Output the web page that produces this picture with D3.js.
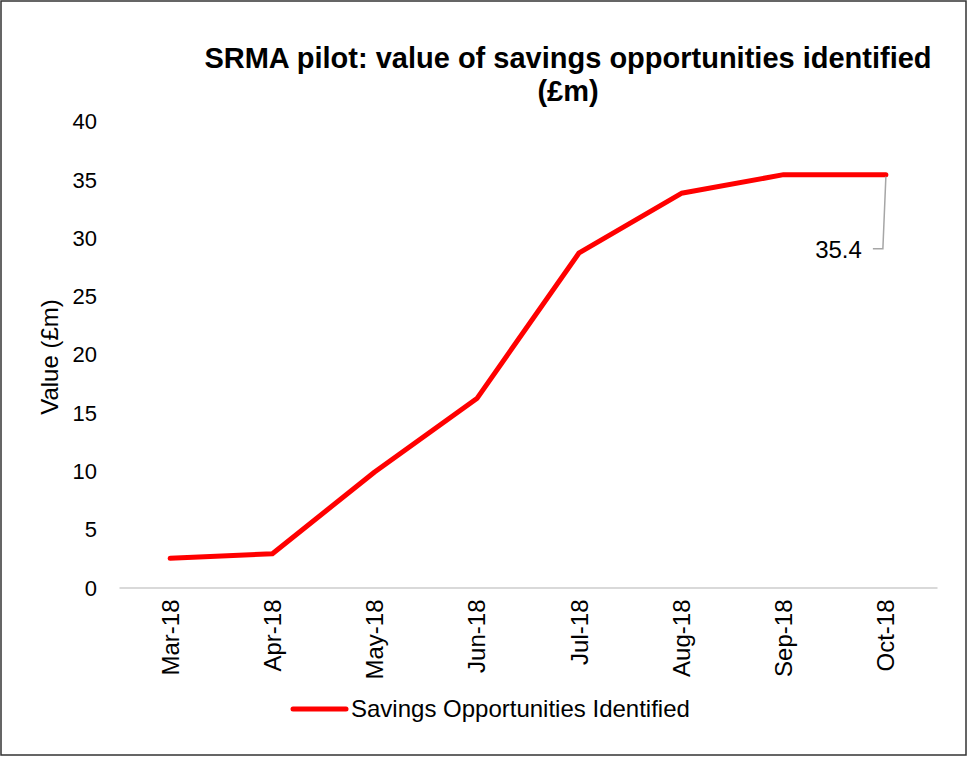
<!DOCTYPE html>
<html><head><meta charset="utf-8">
<script src="https://cdn.jsdelivr.net/npm/d3@7/dist/d3.min.js"></script>
<style>body{margin:0;background:#fff}svg{display:block;font-family:"Liberation Sans",Arial,sans-serif}</style>
</head><body><svg id="c" width="968" height="757"></svg>
<script>
const categories = ["Mar-18","Apr-18","May-18","Jun-18","Jul-18","Aug-18","Sep-18","Oct-18"];
const values = [2.5, 2.9, 9.9, 16.2, 28.7, 33.8, 35.4, 35.4];
const yTicks = [0,5,10,15,20,25,30,35,40];
const seriesName = "Savings Opportunities Identified";
const titleLines = ["SRMA pilot: value of savings opportunities identified","(£m)"];

const svg = d3.select("#c");
svg.append("rect").attr("x",1).attr("y",1).attr("width",965).attr("height",754)
  .attr("fill","#fff").attr("stroke","#333").attr("stroke-width",1.5);

const x = d3.scaleBand().domain(categories).range([119,937]);
const y = d3.scaleLinear().domain([0,40]).range([587.5,121]);

// title
svg.append("text").attr("x",568).attr("y",68).attr("text-anchor","middle")
  .attr("font-size",29).attr("font-weight","bold").text(titleLines[0]);
svg.append("text").attr("x",568).attr("y",101).attr("text-anchor","middle")
  .attr("font-size",29).attr("font-weight","bold").text(titleLines[1]);

// y axis
const ya = svg.append("g").attr("transform","translate(97,0)")
  .call(d3.axisLeft(y).tickValues(yTicks).tickSize(0).tickPadding(0));
ya.select(".domain").remove();
ya.selectAll("text").attr("font-size",22).attr("font-family","Liberation Sans, Arial, sans-serif").attr("fill","#000").attr("dy","0.35em");

// x axis
const xa = svg.append("g").attr("transform",`translate(0,${y(0)})`)
  .call(d3.axisBottom(x).tickSize(0).tickPadding(0));
xa.select(".domain").attr("stroke","#d9d9d9").attr("stroke-width",2);
xa.selectAll("text").attr("font-size",24).attr("font-family","Liberation Sans, Arial, sans-serif").attr("fill","#000")
  .attr("transform","translate(0,12) rotate(-90)").attr("text-anchor","end").attr("dy","0.35em").attr("y",0).attr("x",0);

// y label
svg.append("text").attr("transform","translate(58,357) rotate(-90)").attr("text-anchor","middle")
  .attr("font-size",24).text("Value (£m)");

// line
const line = d3.line().x((d,i)=>x(categories[i])+x.bandwidth()/2).y(d=>y(d));
svg.append("path").datum(values).attr("d",line).attr("fill","none")
  .attr("stroke","#ff0000").attr("stroke-width",5).attr("stroke-linecap","round").attr("stroke-linejoin","round");

// data label for last point
const lx = x(categories[7])+x.bandwidth()/2, lv = values[7], ly = y(lv);
svg.append("path").attr("d",`M${lx},${ly+2} L${lx-3},${ly+74} L${lx-13},${ly+74}`)
  .attr("fill","none").attr("stroke","#a6a6a6").attr("stroke-width",1.5);
svg.append("text").attr("x",lx-24).attr("y",ly+83).attr("text-anchor","end")
  .attr("font-size",24).text(lv.toFixed(1));

// legend
svg.append("line").attr("x1",293).attr("x2",346).attr("y1",709).attr("y2",709)
  .attr("stroke","#ff0000").attr("stroke-width",5).attr("stroke-linecap","round");
svg.append("text").attr("x",351).attr("y",717).attr("font-size",24).text(seriesName);
</script></body></html>
